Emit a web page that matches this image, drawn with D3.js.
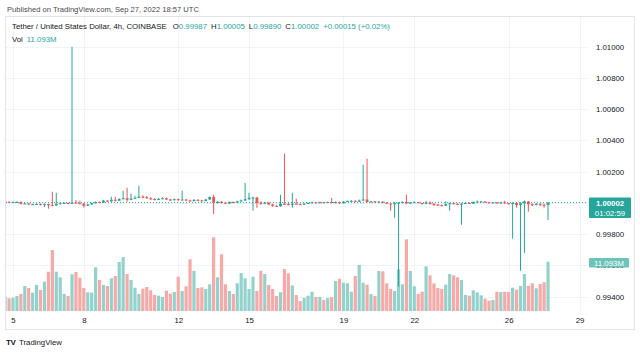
<!DOCTYPE html>
<html>
<head>
<meta charset="utf-8">
<script src="https://cdn.jsdelivr.net/npm/d3@7"></script>
<style>
  body { margin: 0; background: #fff; }
  svg { display: block; font-family: "Liberation Sans", Arial, sans-serif; }
</style>
</head>
<body>
<svg id="chart" width="640" height="352"></svg>
<script>
// USDT/USD, 4h candles from Coinbase, Sep 4 16:00 UTC .. Sep 27 16:00 UTC
var firstBar = Date.UTC(2022, 8, 4, 16);

var opens = [
  1.00002, 1.00008, 1.00003, 1.00006, 1.00007, 0.99994, 0.99997, 0.99990, 0.99992, 0.99994,
  0.99988, 0.99992, 0.99986, 0.99984, 0.99994, 0.99998, 1.00000, 0.99995, 1.00003, 0.99998,
  0.99995, 0.99982, 0.99990, 0.99998, 1.00006, 1.00003, 1.00015, 1.00010, 1.00020, 1.00014,
  1.00025, 1.00030, 1.00020, 1.00028, 1.00033, 1.00040, 1.00036, 1.00030, 1.00025, 1.00020,
  1.00026, 1.00030, 1.00022, 1.00018, 1.00024, 1.00018, 1.00022, 1.00016, 1.00012, 1.00020,
  1.00016, 1.00012, 1.00022, 1.00038, 1.00000, 1.00008, 1.00002, 0.99996, 1.00006, 1.00002,
  1.00010, 1.00016, 1.00024, 1.00033, 1.00035, 1.00001, 0.99995, 1.00002, 0.99990, 0.99982,
  0.99978, 0.99995, 0.99992, 0.99988, 0.99996, 0.99992, 0.99990, 0.99996, 1.00000, 1.00004,
  1.00000, 1.00005, 1.00001, 1.00006, 1.00000, 1.00006, 0.99998, 1.00008, 1.00012, 1.00014,
  1.00008, 1.00016, 1.00022, 1.00006, 1.00010, 1.00004, 1.00008, 1.00002, 0.99996, 0.99992,
  0.99998, 1.00002, 1.00006, 0.99997, 1.00002, 1.00005, 1.00000, 0.99994, 1.00002, 0.99994,
  0.99990, 0.99986, 0.99982, 0.99992, 0.99998, 0.99994, 0.99990, 0.99996, 1.00000, 0.99996,
  1.00006, 1.00008, 1.00009, 1.00004, 1.00000, 1.00003, 0.99998, 1.00003, 0.99998, 0.99994,
  1.00000, 0.99986, 0.99998, 1.00010, 0.99992, 0.99988, 0.99994, 0.99988, 0.99987
];
var highs = [
  1.00012, 1.00010, 1.00009, 1.00010, 1.00008, 1.00000, 0.99999, 0.99995, 0.99997, 0.99996,
  0.99996, 0.99994, 1.00072, 1.00065, 1.00005, 1.00004, 1.00003, 1.01000, 1.00018, 1.00015,
  1.00000, 0.99994, 1.00002, 1.00010, 1.00009, 1.00020, 1.00018, 1.00040, 1.00038, 1.00030,
  1.00078, 1.00097, 1.00060, 1.00045, 1.00110, 1.00050, 1.00044, 1.00036, 1.00030, 1.00032,
  1.00036, 1.00034, 1.00026, 1.00028, 1.00028, 1.00078, 1.00025, 1.00020, 1.00024, 1.00024,
  1.00020, 1.00026, 1.00040, 1.00052, 1.00012, 1.00012, 1.00006, 1.00010, 1.00009, 1.00014,
  1.00022, 1.00129, 1.00065, 1.00040, 1.00038, 1.00010, 1.00006, 1.00004, 0.99994, 0.99986,
  1.00052, 1.00315, 1.00000, 1.00065, 1.00027, 0.99996, 1.00000, 1.00004, 1.00008, 1.00006,
  1.00008, 1.00006, 1.00009, 1.00032, 1.00010, 1.00008, 1.00012, 1.00016, 1.00018, 1.00016,
  1.00022, 1.00245, 1.00283, 1.00014, 1.00012, 1.00012, 1.00010, 1.00004, 0.99998, 1.00006,
  1.00006, 1.00010, 1.00052, 1.00006, 1.00009, 1.00007, 1.00002, 1.00014, 1.00010, 0.99998,
  0.99994, 0.99990, 1.00010, 1.00002, 1.00000, 0.99998, 1.00000, 1.00004, 1.00002, 1.00010,
  1.00016, 1.00012, 1.00010, 1.00006, 1.00006, 1.00005, 1.00006, 1.00014, 1.00000, 1.00004,
  1.00004, 1.00004, 1.00016, 1.00012, 0.99996, 1.00000, 0.99998, 0.99996, 1.00005
];
var lows = [
  1.00000, 1.00000, 1.00001, 1.00002, 0.99991, 0.99992, 0.99987, 0.99988, 0.99990, 0.99984,
  0.99974, 0.99963, 0.99980, 0.99982, 0.99991, 0.99994, 0.99992, 0.99993, 0.99995, 0.99992,
  0.99970, 0.99980, 0.99988, 0.99996, 1.00000, 1.00001, 1.00007, 1.00008, 1.00010, 1.00012,
  1.00022, 1.00008, 1.00018, 1.00026, 1.00030, 1.00030, 1.00026, 1.00020, 1.00016, 1.00018,
  1.00024, 1.00018, 1.00014, 1.00016, 1.00014, 1.00016, 1.00012, 1.00008, 1.00010, 1.00012,
  1.00008, 1.00010, 1.00020, 0.99929, 0.99997, 0.99996, 0.99992, 0.99994, 0.99998, 1.00000,
  1.00008, 1.00014, 1.00020, 0.99950, 0.99969, 0.99988, 0.99992, 0.99986, 0.99976, 0.99974,
  0.99976, 0.99988, 0.99984, 0.99969, 0.99990, 0.99986, 0.99988, 0.99994, 0.99998, 0.99996,
  0.99998, 0.99998, 0.99999, 0.99997, 0.99996, 0.99994, 0.99996, 1.00006, 1.00008, 1.00004,
  1.00006, 1.00012, 1.00002, 1.00004, 1.00000, 1.00002, 0.99998, 0.99992, 0.99950, 0.99905,
  0.99464, 0.99998, 0.99992, 0.99994, 1.00000, 0.99997, 0.99990, 0.99992, 0.99988, 0.99980,
  0.99982, 0.99978, 0.99980, 0.99950, 0.99990, 0.99986, 0.99860, 0.99994, 0.99993, 0.99994,
  1.00004, 1.00005, 1.00000, 0.99997, 0.99998, 0.99996, 0.99996, 0.99994, 0.99990, 0.99771,
  0.99970, 0.99566, 0.99681, 0.99944, 0.99980, 0.99984, 0.99980, 0.99970, 0.99890
];
var closes = [
  1.00008, 1.00003, 1.00006, 1.00007, 0.99994, 0.99997, 0.99990, 0.99992, 0.99994, 0.99988,
  0.99992, 0.99986, 0.99984, 0.99994, 0.99998, 1.00000, 0.99995, 1.00003, 0.99998, 0.99995,
  0.99982, 0.99990, 0.99998, 1.00006, 1.00003, 1.00015, 1.00010, 1.00020, 1.00014, 1.00025,
  1.00030, 1.00020, 1.00028, 1.00033, 1.00040, 1.00036, 1.00030, 1.00025, 1.00020, 1.00026,
  1.00030, 1.00022, 1.00018, 1.00024, 1.00018, 1.00022, 1.00016, 1.00012, 1.00020, 1.00016,
  1.00012, 1.00022, 1.00038, 1.00000, 1.00008, 1.00002, 0.99996, 1.00006, 1.00002, 1.00010,
  1.00016, 1.00024, 1.00033, 1.00035, 1.00001, 0.99995, 1.00002, 0.99990, 0.99982, 0.99978,
  0.99995, 0.99992, 0.99988, 0.99996, 0.99992, 0.99990, 0.99996, 1.00000, 1.00004, 1.00000,
  1.00005, 1.00001, 1.00006, 1.00000, 1.00006, 0.99998, 1.00008, 1.00012, 1.00014, 1.00008,
  1.00016, 1.00022, 1.00006, 1.00010, 1.00004, 1.00008, 1.00002, 0.99996, 0.99992, 0.99998,
  1.00002, 1.00006, 0.99997, 1.00002, 1.00005, 1.00000, 0.99994, 1.00002, 0.99994, 0.99990,
  0.99986, 0.99982, 0.99992, 0.99998, 0.99994, 0.99990, 0.99996, 1.00000, 0.99996, 1.00006,
  1.00008, 1.00009, 1.00004, 1.00000, 1.00003, 0.99998, 1.00003, 0.99998, 0.99994, 1.00000,
  0.99986, 0.99998, 1.00010, 0.99992, 0.99988, 0.99994, 0.99988, 0.99987, 1.00002
];
// volume in millions
var volumes = [
  3.22, 2.86, 2.99, 3.38, 3.83, 5.63, 5.18, 4.12, 5.85, 4.73,
  6.59, 8.84, 13.73, 8.84, 7.58, 3.83, 3.38, 8.26, 8.78, 7.49,
  5.18, 4.21, 4.12, 9.83, 6.98, 5.85, 5.63, 7.36, 7.88, 11.03,
  12.15, 8.33, 6.98, 5.24, 3.83, 5.02, 5.40, 4.66, 3.60, 3.44,
  3.15, 4.57, 3.89, 4.28, 7.72, 4.50, 5.56, 11.63, 9.00, 5.18,
  5.33, 4.95, 6.01, 16.58, 7.58, 12.76, 6.01, 4.50, 3.83, 6.23,
  8.55, 7.36, 4.95, 7.72, 4.50, 9.07, 8.33, 5.85, 4.95, 3.38,
  4.21, 9.45, 8.48, 5.78, 3.60, 2.25, 2.93, 3.44, 4.34, 3.15,
  3.15, 2.48, 2.93, 3.15, 6.75, 7.27, 6.37, 6.23, 4.34, 7.88,
  10.35, 6.37, 5.92, 3.83, 3.38, 9.00, 8.93, 6.23, 4.95, 4.50,
  9.38, 6.01, 16.13, 9.00, 5.56, 3.83, 4.34, 10.06, 8.03, 6.23,
  5.18, 4.95, 5.92, 8.33, 8.03, 7.58, 6.98, 3.60, 3.44, 4.66,
  4.21, 3.53, 2.77, 2.32, 2.48, 4.34, 4.28, 4.34, 4.28, 5.24,
  4.79, 5.63, 8.33, 5.63, 6.23, 5.11, 6.08, 6.46, 11.093
];

var priceTicks = [0.994, 0.996, 0.998, 1.000, 1.002, 1.004, 1.006, 1.008, 1.010];
var dayTicks = [5, 8, 12, 15, 19, 22, 26, 29];
var lastPrice = 1.00002, lastVolume = 11.093, countdown = "01:02:59";

var upColor = "#26a69a", downColor = "#ef5350";
var upVol = "#93d2cc", downVol = "#f7a9a7";

var bars = opens.map(function(o, i) {
  return { t: new Date(firstBar + i * 4 * 3600 * 1000), o: o, h: highs[i], l: lows[i], c: closes[i], v: volumes[i] };
});

// the chart pane
var pane = { left: 6, top: 17, right: 587, bottom: 311 };

var x = d3.scaleUtc()
    .domain([new Date(Date.UTC(2022, 8, 5)), new Date(Date.UTC(2022, 8, 29))])
    .range([13, 579.5]);
var y = d3.scaleLinear().domain([0.994, 1.010]).range([296.7, 46.7]);
var yVol = d3.scaleLinear().domain([0, lastVolume]).range([pane.bottom, 261.7]);

var svg = d3.select("#chart");

svg.append("rect").attr("width", 640).attr("height", 352).attr("fill", "#fff");

// outer frame
svg.append("rect")
    .attr("x", pane.left - 0.5).attr("y", pane.top - 0.5)
    .attr("width", 635 - pane.left).attr("height", 330 - pane.top)
    .attr("fill", "none").attr("stroke", "#e0e3eb");

svg.append("defs").append("clipPath").attr("id", "paneclip")
  .append("rect").attr("x", pane.left).attr("y", pane.top)
    .attr("width", pane.right - pane.left).attr("height", pane.bottom - pane.top);

// grid
var grid = svg.append("g").attr("clip-path", "url(#paneclip)");
grid.selectAll(".hg").data(priceTicks).enter().append("line")
    .attr("x1", pane.left).attr("x2", pane.right)
    .attr("y1", function(d) { return Math.round(y(d)) + 0.5; })
    .attr("y2", function(d) { return Math.round(y(d)) + 0.5; })
    .attr("stroke", "#f0f3fa");
grid.selectAll(".vg").data(dayTicks).enter().append("line")
    .attr("x1", function(d) { return Math.round(x(Date.UTC(2022, 8, d))) + 0.5; })
    .attr("x2", function(d) { return Math.round(x(Date.UTC(2022, 8, d))) + 0.5; })
    .attr("y1", pane.top).attr("y2", pane.bottom)
    .attr("stroke", "#f0f3fa");

var plot = svg.append("g").attr("clip-path", "url(#paneclip)");

// volume bars
plot.selectAll(".vol").data(bars).enter().append("rect")
    .attr("x", function(d) { return x(d.t) - 1.6; })
    .attr("width", 3.2)
    .attr("y", function(d) { return yVol(d.v); })
    .attr("height", function(d) { return pane.bottom - yVol(d.v); })
    .attr("fill", function(d) { return d.c >= d.o ? upVol : downVol; });

// last price line
plot.append("line")
    .attr("x1", pane.left).attr("x2", pane.right)
    .attr("y1", y(lastPrice)).attr("y2", y(lastPrice))
    .attr("stroke", upColor).attr("stroke-dasharray", "1,2");

// candles
var candle = plot.selectAll(".candle").data(bars).enter().append("g");
candle.append("line")
    .attr("x1", function(d) { return x(d.t); })
    .attr("x2", function(d) { return x(d.t); })
    .attr("y1", function(d) { return y(d.h); })
    .attr("y2", function(d) { return y(d.l); })
    .attr("stroke", function(d) { return d.c >= d.o ? upColor : downColor; })
    .attr("stroke-width", 1);
candle.append("rect")
    .attr("x", function(d) { return x(d.t) - 1.4; })
    .attr("width", 2.8)
    .attr("y", function(d) { return y(Math.max(d.o, d.c)); })
    .attr("height", function(d) { return Math.max(1, Math.abs(y(d.o) - y(d.c))); })
    .attr("fill", function(d) { return d.c >= d.o ? upColor : downColor; });

// price axis
var yAxis = svg.append("g")
    .attr("transform", "translate(596,0)")
    .call(d3.axisRight(y).tickValues(priceTicks).tickFormat(d3.format(".5f")).tickSize(0).tickPadding(0));
yAxis.select(".domain").remove();
yAxis.selectAll("text").attr("fill", "#131722").style("font-size", "7.8px")
    .style("font-family", "'Liberation Sans', Arial, sans-serif");

// time axis
var xAxis = svg.append("g")
    .attr("transform", "translate(0," + pane.bottom + ")")
    .call(d3.axisBottom(x)
      .tickValues(dayTicks.map(function(d) { return new Date(Date.UTC(2022, 8, d)); }))
      .tickFormat(d3.utcFormat("%-d")).tickSize(0).tickPadding(6));
xAxis.select(".domain").remove();
xAxis.selectAll("text").attr("fill", "#131722").style("font-size", "7.8px")
    .style("font-family", "'Liberation Sans', Arial, sans-serif");

// last price label
svg.append("rect").attr("x", 589).attr("y", 197.5).attr("width", 42).attr("height", 20.5)
    .attr("rx", 1).attr("fill", upColor);
svg.append("text").attr("x", 610).attr("y", 206).attr("text-anchor", "middle")
    .attr("fill", "#fff").style("font-size", "7.8px").style("font-weight", "bold")
    .text(d3.format(".5f")(lastPrice));
svg.append("text").attr("x", 610).attr("y", 215.5).attr("text-anchor", "middle")
    .attr("fill", "#fff").style("font-size", "7.8px")
    .text(countdown);

// last volume label
svg.append("rect").attr("x", 589).attr("y", 258).attr("width", 40).attr("height", 9.5)
    .attr("rx", 1).attr("fill", "#6cc3b9");
svg.append("text").attr("x", 609).attr("y", 265.6).attr("text-anchor", "middle")
    .attr("fill", "#fff").style("font-size", "7.8px")
    .text(lastVolume + "M");

// header and legend
svg.append("text").attr("x", 7).attr("y", 12).attr("fill", "#4a4a4a").style("font-size", "7.6px")
    .text("Published on TradingView.com, Sep 27, 2022 18:57 UTC");

var legend = svg.append("text").attr("x", 12).attr("y", 29.3).attr("fill", "#131722").style("font-size", "7.8px");
legend.append("tspan").text("Tether / United States Dollar, 4h, COINBASE");
var ohlc = [["O", opens[opens.length - 1]], ["H", highs[highs.length - 1]], ["L", lows[lows.length - 1]], ["C", closes[closes.length - 1]]];
ohlc.forEach(function(p, i) {
  legend.append("tspan").attr("dx", i === 0 ? 6 : 4).text(p[0]);
  legend.append("tspan").attr("fill", upColor).text(d3.format(".5f")(p[1]));
});
legend.append("tspan").attr("dx", 4).attr("fill", upColor).text("+0.00015 (+0.02%)");

var vol = svg.append("text").attr("x", 12).attr("y", 41.5).attr("fill", "#131722").style("font-size", "7.8px");
vol.append("tspan").text("Vol");
vol.append("tspan").attr("dx", 4).attr("fill", upColor).text(lastVolume + "M");

// footer logo
svg.append("text").attr("x", 6).attr("y", 344.5).attr("fill", "#131722")
    .style("font-size", "8px").style("font-weight", "bold").style("letter-spacing", "-0.5px").text("TV");
svg.append("text").attr("x", 19).attr("y", 344.5).attr("fill", "#131722")
    .style("font-size", "7.8px").text("TradingView");
</script>
</body>
</html>
